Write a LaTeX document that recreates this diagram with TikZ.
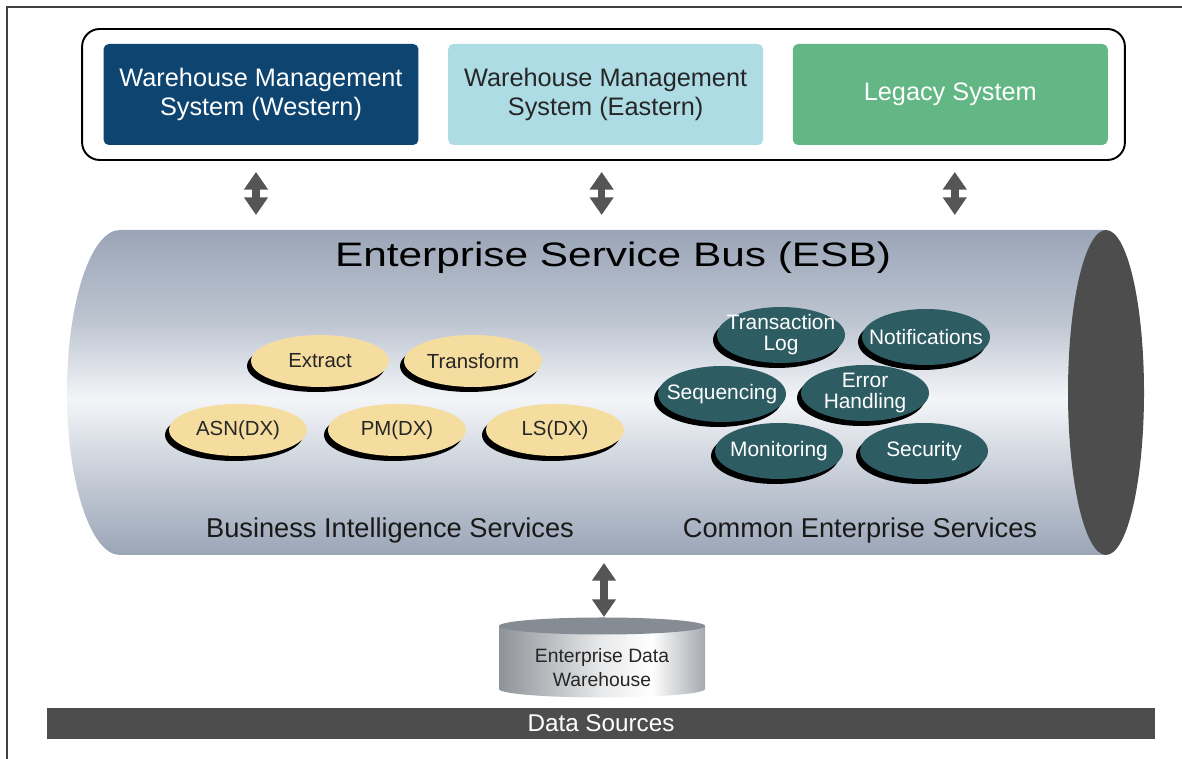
\documentclass[tikz,border=0pt]{standalone}
\usepackage{fontspec}
\setmainfont{Liberation Sans}
\newfontfamily\widesans[FakeStretch=1.25]{Liberation Sans}
\usetikzlibrary{shapes,arrows.meta,positioning,calc,shadows}

\definecolor{wmsblue}{HTML}{0E4470}
\definecolor{wmslight}{HTML}{ADDCE5}
\definecolor{legacygreen}{HTML}{62B785}
\definecolor{arrowgray}{HTML}{555555}
\definecolor{capgray}{HTML}{4D4D4D}
\definecolor{esbgray}{HTML}{9AA5B7}
\definecolor{esbwhite}{HTML}{F3F5F8}
\definecolor{biyellow}{HTML}{F4DD9E}
\definecolor{ceteal}{HTML}{2E5C63}
\definecolor{dbgray}{HTML}{8E9399}
\definecolor{dbtop}{HTML}{868C93}

% bus body: grey-blue top and bottom, light band a bit below the middle
\pgfdeclareverticalshading{esbbody}{100bp}{color(0bp)=(esbgray); color(25bp)=(esbgray);
  color(36bp)=(esbgray!55!esbwhite); color(49bp)=(esbwhite);
  color(61bp)=(esbgray!60!esbwhite); color(75bp)=(esbgray); color(100bp)=(esbgray)}
% warehouse drum: highlight right of centre
\pgfdeclarehorizontalshading{dbbody}{100bp}{color(0bp)=(dbgray); color(25bp)=(dbgray);
  color(50bp)=(white!80!dbgray); color(62bp)=(white); color(75bp)=(dbgray!80!white);
  color(100bp)=(dbgray!80!white)}

\begin{document}
\begin{tikzpicture}[x=0.02cm,y=0.02cm,
    appbox/.style={rounded corners=3pt,minimum width=6.3cm,minimum height=2.02cm,
      align=center,font=\fontsize{14.4}{17}\selectfont},
    biarrow/.style={arrowgray,line width=4.3pt,
      {Triangle[width=13pt,length=10pt]}-{Triangle[width=13pt,length=10pt]}},
    svcshadow/.style={general shadow={fill=black,shadow xshift=-0.08cm,shadow yshift=-0.1cm}},
    bisvc/.style={ellipse,fill=biyellow,minimum width=2.76cm,minimum height=1.04cm,
      inner sep=0pt,svcshadow,
      label={[text=black!85,font=\fontsize{11.6}{13}\selectfont]center:#1}},
    cesvc/.style={ellipse,fill=ceteal,minimum width=2.56cm,minimum height=1.12cm,
      inner sep=0pt,svcshadow,
      label={[text=white,align=center,font=\fontsize{11.9}{12}\selectfont]center:#1}},
    sectlabel/.style={font=\fontsize{15.5}{18}\selectfont,text=black!90}]
  \useasboundingbox (0,0) rectangle (1182,759);
  \draw [line width=1.1pt,black!75] (7,0) -- (7,752) -- (1182,752);

  % applications on top
  \node (apps) [draw,line width=1.1pt,rounded corners=10pt,minimum width=20.86cm,
    minimum height=2.62cm] at (603.5,664.5) {};
  \node (west) [appbox,fill=wmsblue,text=white] at (261,664.5) {Warehouse Management\\System (Western)};
  \node (east) [appbox,fill=wmslight,text=black!85,right=0.58cm of west] {Warehouse Management\\System (Eastern)};
  \node (legacy) [appbox,fill=legacygreen,text=white,right=0.58cm of east] {Legacy System};

  % the bus
  \path [shading=esbbody] (1106,529) -- (120,529)
    arc [start angle=90,end angle=270,x radius=53,y radius=162.5] -- (1106,204) -- cycle;
  \fill [capgray] (1106,366.5) ellipse [x radius=38,y radius=162.5];
  \coordinate (esbtop) at (604,529);
  \coordinate (esbbottom) at (604,204);
  \node (esbtitle) [font=\widesans\fontsize{19.3}{22}\selectfont] at (613,501) {Enterprise Service Bus (ESB)};

  \draw [biarrow,shorten <=0.22cm,shorten >=0.3cm] ([xshift=-0.1cm]west.south |- apps.south) -- ([xshift=-0.1cm]west.south |- esbtop);
  \draw [biarrow,shorten <=0.22cm,shorten >=0.3cm] ([xshift=-0.08cm]east.south |- apps.south) -- ([xshift=-0.08cm]east.south |- esbtop);
  \draw [biarrow,shorten <=0.22cm,shorten >=0.3cm] ([xshift=0.09cm]legacy.south |- apps.south) -- ([xshift=0.09cm]legacy.south |- esbtop);

  % business intelligence services
  \node (extract) [bisvc=Extract] at (320,398) {};
  \node (transform) [bisvc=Transform] at (473,398) {};
  \node (asn) [bisvc=ASN(DX)] at (238,329) {};
  \node (pm) [bisvc=PM(DX)] at (397,329) {};
  \node (ls) [bisvc=LS(DX)] at (555,329) {};
  \node (bilabel) [sectlabel] at (390,229) {Business Intelligence Services};

  % common enterprise services
  \node (txlog) [cesvc={Transaction\\Log}] at (781,424) {};
  \node (notify) [cesvc=Notifications] at (926,422) {};
  \node (seq) [cesvc=Sequencing] at (722,365) {};
  \node (errors) [cesvc={Error\\Handling}] at (865,366) {};
  \node (monitor) [cesvc=Monitoring] at (779,308) {};
  \node (security) [cesvc=Security] at (924,308) {};
  \node (celabel) [sectlabel] at (860,229) {Common Enterprise Services};

  % data warehouse drum
  \path [shading=dbbody] (499,133) -- (499,70)
    arc [start angle=180,end angle=360,x radius=103,y radius=8.5] -- (705,133) -- cycle;
  \fill [dbtop] (602,133) ellipse [x radius=103,y radius=8.5];
  \coordinate (edwtop) at (604,142);
  \node (edw) [align=center,text=black!85,font=\fontsize{11}{13.6}\selectfont] at (602,91) {Enterprise Data\\Warehouse};
  \draw [biarrow,shorten <=0.16cm] (esbbottom) -- (edwtop);

  \node (sources) [fill=capgray,text=white,minimum width=22.16cm,minimum height=0.62cm,
    inner sep=0pt,font=\fontsize{13.8}{16}\selectfont] at (601,35.5) {Data Sources};
\end{tikzpicture}
\end{document}
